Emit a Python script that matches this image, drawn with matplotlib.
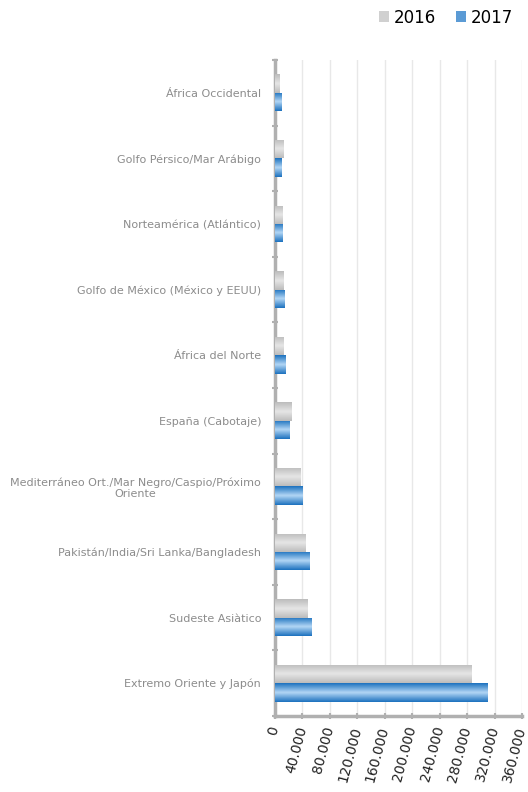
import matplotlib.pyplot as plt
import numpy as np

categorias = ['África Occidental', 'Golfo Pérsico/Mar Arábigo', 'Norteamérica (Atlántico)',
              'Golfo de México (México y EEUU)', 'África del Norte', 'España (Cabotaje)',
              'Mediterráneo Ort./Mar Negro/Caspio/Próximo\nOriente',
              'Pakistán/India/Sri Lanka/Bangladesh', 'Sudeste Asiàtico', 'Extremo Oriente y Japón']
v2016 = [7000, 11700, 10800, 12200, 13000, 24000, 36500, 44000, 48000, 287000]
v2017 = [9700, 10000, 11200, 13700, 14600, 21400, 39500, 50500, 53500, 309000]
xticks = np.arange(0, 360001, 40000)

fig = plt.figure(figsize=(5.28, 7.92), dpi=100)
ax = fig.add_axes([275/528, 1 - 716/792, 247/528, 656/792])

y = np.arange(len(categorias))
h = 0.28
b16 = ax.barh(y - h/2, v2016, height=h, color='#d0d0d0', label='2016', zorder=3)
b17 = ax.barh(y + h/2, v2017, height=h, color='#5b9bd5', label='2017', zorder=3)

# degradado vertical dentro de cada barra
def degradado(bars, c_borde, c_centro):
    t = np.linspace(0, 1, 32)
    w = 1 - np.abs(2*t - 1)
    c1 = np.array(c_borde); c2 = np.array(c_centro)
    img = (c1[None, :] * (1 - w[:, None]) + c2[None, :] * w[:, None])[:, None, :]
    for p in bars:
        x0, y0 = p.get_x(), p.get_y()
        im = ax.imshow(img, extent=[x0, x0 + p.get_width(), y0 + p.get_height(), y0],
                       aspect='auto', zorder=4, interpolation='bilinear')
        im.set_clip_path(p)

degradado(b16, (0.74, 0.74, 0.74), (0.90, 0.90, 0.90))
degradado(b17, (0.12, 0.45, 0.75), (0.70, 0.84, 0.96))

ax.set_ylim(len(categorias) - 0.5, -0.5)
ax.set_xlim(0, 360000)
ax.set_yticks(y)
ax.set_yticklabels(categorias, fontsize=8, color='#8c8c8c', multialignment='center')
ax.set_yticks(np.arange(-0.5, len(categorias)), minor=True)
ax.tick_params(axis='y', which='major', length=0, pad=10)
ax.tick_params(axis='y', which='minor', length=5, width=1.5, color='#b0b0b0', direction='inout')

ax.set_xticks(xticks)
ax.set_xticklabels([f'{int(v):,}'.replace(',', '.') for v in xticks], rotation=75,
                   ha='right', va='center', rotation_mode='anchor', fontsize=10, color='#222222')
ax.tick_params(axis='x', length=5, width=1.5, color='#b0b0b0', direction='inout', pad=5)

ax.grid(axis='x', color='#e8e8e8', linewidth=1, zorder=0)
for s in ['top', 'right']:
    ax.spines[s].set_visible(False)
for s in ['left', 'bottom']:
    ax.spines[s].set_color('#b0b0b0')
    ax.spines[s].set_linewidth(2.5)

leg = fig.legend(handles=[b16, b17], labels=['2016', '2017'], loc='upper right', bbox_to_anchor=(1.0, 1.008),
                 ncol=2, frameon=False, fontsize=12, handlelength=0.6, handleheight=0.6,
                 handletextpad=0.3, columnspacing=1.2)

fig.savefig('out.png', dpi=100)
